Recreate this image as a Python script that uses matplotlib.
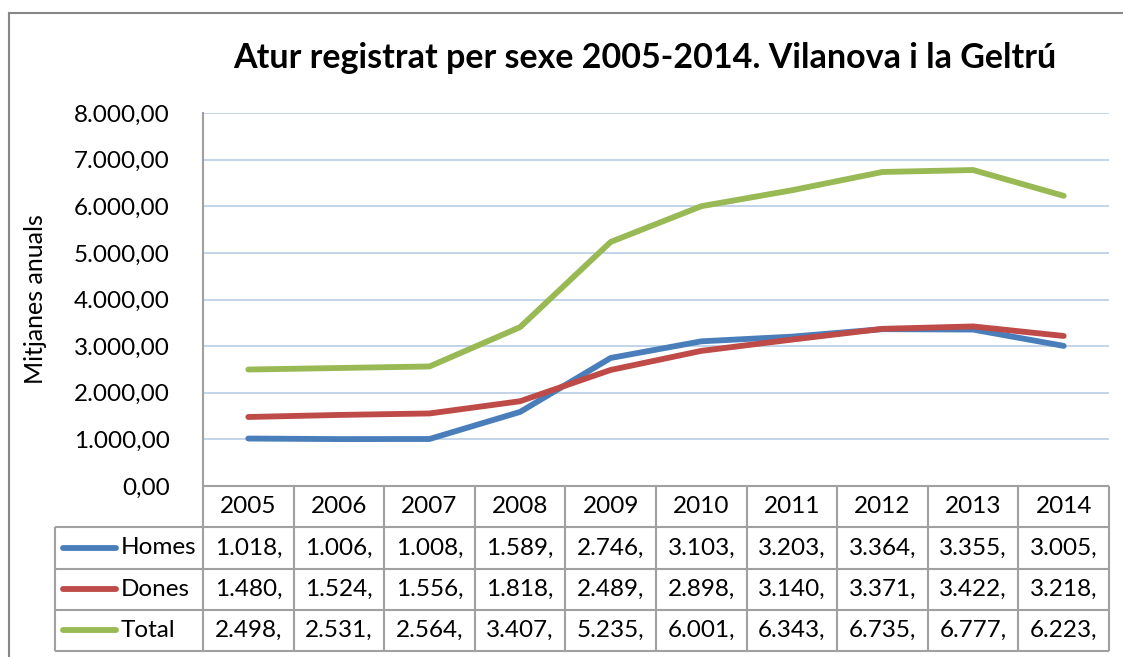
import matplotlib
matplotlib.use('Agg')
import matplotlib.pyplot as plt
from matplotlib.ticker import FuncFormatter
from matplotlib.lines import Line2D

plt.rcParams['font.family'] = ['Lato', 'DejaVu Sans']

years = ['2005', '2006', '2007', '2008', '2009', '2010', '2011', '2012', '2013', '2014']
homes = [1018, 1006, 1008, 1589, 2746, 3103, 3203, 3364, 3355, 3005]
dones = [1480, 1524, 1556, 1818, 2489, 2898, 3140, 3371, 3422, 3218]
total = [2498, 2531, 2564, 3407, 5235, 6001, 6343, 6735, 6777, 6223]
series_names = ['Homes', 'Dones', 'Total']
series_colors = ['#4a7ebb', '#be4b48', '#98b954']
title = 'Atur registrat per sexe 2005-2014. Vilanova i la Geltrú'
ylabel = 'Mitjanes anuals'

W, H = 1123, 657
grid_col = '#b9cde5'
line_col = '#a0a0a0'
fs = 17.5
lw = 4.2


def fmt_es(v, decimals=2):
    s = '{:,.{d}f}'.format(v, d=decimals)
    return s.replace(',', 'X').replace('.', ',').replace('X', '.')


fig = plt.figure(figsize=(W / 100, H / 100), dpi=100)

# outer chart border (cropped at right and bottom)
fig.add_artist(Line2D([9 / W, 1.0], [1 - 13 / H, 1 - 13 / H], transform=fig.transFigure,
                      color='#878787', lw=1.5))
fig.add_artist(Line2D([9 / W, 9 / W], [0, 1 - 13 / H], transform=fig.transFigure,
                      color='#878787', lw=1.5))

# plot area in pixels
px0, px1, py0, py1 = 203, 1109, 113, 486
ax = fig.add_axes([px0 / W, 1 - py1 / H, (px1 - px0) / W, (py1 - py0) / H])
x = list(range(len(years)))
for vals, c in zip([homes, dones, total], series_colors):
    ax.plot(x, vals, color=c, lw=lw, solid_capstyle='round', zorder=3)
ax.set_xlim(-0.5, len(years) - 0.5)
ax.set_ylim(0, 8000)
ax.set_yticks(range(0, 8001, 1000))
ax.yaxis.set_major_formatter(FuncFormatter(lambda v, p: fmt_es(v)))
ax.set_xticks([])
ax.grid(axis='y', color=grid_col, lw=1.2)
ax.tick_params(axis='y', length=0, pad=24, labelsize=fs)
for s in ['top', 'right', 'bottom']:
    ax.spines[s].set_visible(False)
ax.spines['left'].set_color(line_col)
ax.spines['left'].set_linewidth(1.5)
ax.set_ylabel(ylabel, fontsize=18)
ax.yaxis.set_label_coords((47 - px0) / (px1 - px0), 0.5)

fig.text(645 / W, 1 - 58 / H, title, ha='center', va='center', fontsize=24.5, fontweight='bold')

# data table below plot
unit = (px1 - px0) / len(years)
tx0, ty1 = 55, 651
x_left = -0.5 - (px0 - tx0) / unit
tax = fig.add_axes([tx0 / W, 1 - ty1 / H, (px1 - tx0) / W, (ty1 - py1) / H])
tax.set_xlim(x_left, len(years) - 0.5)
tax.set_ylim(4, 0)
tax.axis('off')
n = len(years)
tax.hlines(0, -0.5, n - 0.5, color=line_col, lw=1.5, clip_on=False)
for r in range(1, 5):
    tax.hlines(r, x_left, n - 0.5, color=line_col, lw=1.5, clip_on=False)
for k in range(n + 1):
    tax.vlines(k - 0.5, 0, 4, color=line_col, lw=1.5, clip_on=False)
tax.vlines(x_left, 1, 4, color=line_col, lw=1.5, clip_on=False)

for i, yr in enumerate(years):
    tax.text(i, 0.5, yr, ha='center', va='center', fontsize=fs)
for r, (name, vals, c) in enumerate(zip(series_names, [homes, dones, total], series_colors), start=1):
    tax.plot([x_left + 8 / unit, x_left + 61 / unit], [r + 0.5, r + 0.5], color=c, lw=lw,
             solid_capstyle='round', clip_on=False)
    tax.text(x_left + 66 / unit, r + 0.5, name, ha='left', va='center', fontsize=fs)
    for i, v in enumerate(vals):
        # cell too narrow for the full number, it gets cut after the comma
        tax.text(i, r + 0.5, fmt_es(v)[:6], ha='center', va='center', fontsize=fs)

fig.savefig('out.png', dpi=100)
